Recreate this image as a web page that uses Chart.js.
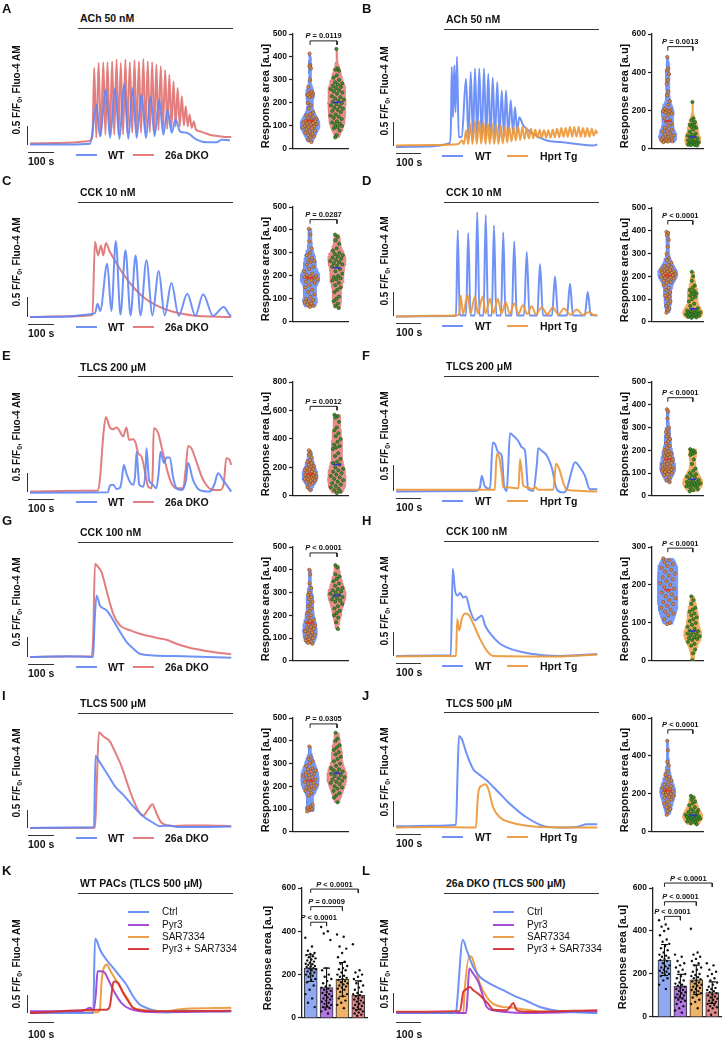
<!DOCTYPE html>
<html lang="en">
<head>
<meta charset="UTF-8">
<title>Ca2+ responses</title>
<script src="https://cdn.jsdelivr.net/npm/chart.js"></script>
<style>
  body { margin: 0; background: #fff; }
  #fig { position: relative; width: 723px; height: 1038px; overflow: hidden;
         font-family: Arial, "Liberation Sans", Helvetica, sans-serif; color: #111; }
  #fig canvas { position: absolute; }
  .t { position: absolute; white-space: nowrap; font-weight: bold; line-height: 1; }
  .letter { font-size: 13px; }
  .ttl { font-size: 10.5px; transform: translateY(-50%); }
  .lg { font-size: 10.5px; transform: translateY(-50%); }
  .lg2 { font-size: 10px; font-weight: normal; transform: translateY(-50%); }
  .sb { font-size: 10.5px; }
  .rot { font-size: 10px; transform: translate(-50%, -50%) rotate(-90deg); }
  .rot2 { font-size: 11px; transform: translate(-50%, -50%) rotate(-90deg); }
  .pv { font-size: 7.5px; transform: translate(-50%, -100%); }
  .ln { position: absolute; background: #333; }
  sub { font-size: 7px; vertical-align: -2px; }
</style>
</head>
<body>
<div id="fig"></div>
<script>
// ---------- calcium traces: [time (s), F/F0 above baseline] ----------
const traceA_wt = [[0,0],[150,0],[231,0.02],[256,1.05],[269,0.22],[292,1.45],[308,0.18],[327,1.49],[344,0.15],[362,1.6],[378,0.15],[395,1.49],[410,0.18],[429,1.32],[446,0.18],[464,1.27],[479,0.22],[497,1.18],[513,0.26],[529,0.92],[545,0.31],[560,0.66],[577,0.35],[603,0.31],[641,0.13],[679,0.06],[718,0.06],[737,0.13],[769,0.11]];
const traceA_dko = [[0,0.03],[150,0.05],[224,0.09],[240,0.2],[247,2.02],[255,0.18],[264,2.15],[272,0.22],[282,2.17],[290,0.26],[298,2.17],[307,0.26],[316,2.19],[324,0.26],[333,2.24],[341,0.26],[349,2.15],[358,0.26],[367,2.24],[375,0.31],[384,2.17],[393,0.31],[402,2.22],[410,0.31],[419,2.18],[427,0.31],[436,2.25],[444,0.32],[453,2.19],[461,0.32],[470,2.17],[478,0.35],[486,2.11],[494,0.38],[503,2.06],[511,0.39],[520,1.96],[528,0.41],[536,1.84],[544,0.44],[552,1.67],[560,0.48],[568,1.49],[576,0.48],[584,1.27],[592,0.5],[599,1.01],[607,0.48],[614,0.79],[622,0.44],[630,0.61],[638,0.4],[653,0.35],[691,0.26],[730,0.22],[760,0.2],[774,0.2]];
const traceB_wt = [[0,-0.01],[120,0],[215,0.07],[220,0.5],[223,1.63],[228,0.6],[233,1.66],[238,0.7],[244,1.84],[251,0.19],[263,0.2],[280,1.39],[290,0.15],[299,1.53],[308,0.15],[316,1.6],[325,0.15],[333,1.6],[343,0.15],[352,1.6],[361,0.15],[369,1.49],[378,0.15],[387,1.41],[396,0.15],[405,1.32],[414,0.18],[423,1.15],[432,0.2],[440,1.15],[449,0.22],[459,0.95],[468,0.26],[476,0.81],[485,0.3],[493,0.6],[509,0.43],[549,0.26],[603,0.12],[656,0.09],[723,0.05],[789,0.02],[805,0.04]];
const traceB_tg = [[0,0.02],[150,0.03],[250,0.05],[263,0.12],[272,0.05],[280,0.33],[289,0.05],[297,0.47],[306,0.05],[315,0.52],[323,0.05],[332,0.52],[341,0.05],[349,0.5],[358,0.05],[367,0.48],[375,0.05],[384,0.47],[393,0.05],[401,0.45],[410,0.05],[419,0.43],[427,0.06],[436,0.41],[445,0.08],[453,0.4],[462,0.1],[471,0.4],[479,0.12],[488,0.41],[497,0.13],[505,0.4],[514,0.15],[523,0.38],[531,0.16],[540,0.36],[549,0.17],[557,0.34],[566,0.18],[575,0.34],[583,0.18],[592,0.33],[601,0.18],[609,0.33],[618,0.18],[627,0.34],[635,0.19],[644,0.36],[653,0.19],[661,0.38],[670,0.2],[679,0.38],[687,0.2],[696,0.4],[705,0.2],[713,0.4],[722,0.2],[731,0.4],[739,0.2],[748,0.38],[757,0.2],[765,0.38],[774,0.2],[783,0.36],[791,0.22],[800,0.33],[805,0.26]];
const traceC_wt = [[0,0],[150,0.01],[230,0.07],[250,0.1],[260,0.33],[270,0.15],[297,1.33],[313,0.15],[330,1.9],[348,0.06],[367,1.67],[387,0.04],[406,1.54],[425,0.04],[448,1.42],[471,0.04],[495,1.15],[518,0.04],[544,0.85],[572,0.03],[605,0.58],[636,0.03],[666,0.57],[704,0.03],[745,0.25],[768,0.05],[774,0.03]];
const traceC_dko = [[0,0],[150,0.02],[240,0.05],[250,1.88],[262,1.54],[273,1.79],[282,1.54],[292,1.85],[307,1.63],[326,1.42],[358,1.08],[397,0.75],[435,0.5],[486,0.29],[550,0.13],[627,0.04],[774,0]];
const traceD_wt = [[0,0],[220,0.01],[240,0.02],[247,1.77],[255,0.03],[280,0.02],[289,1.71],[298,0.02],[316,0.02],[325,2.14],[334,0.02],[350,0.02],[359,2.08],[368,0.02],[383,0.02],[392,1.87],[401,0.02],[420,0.02],[429,1.73],[438,0.02],[463,0.02],[473,1.54],[483,0.02],[512,0.02],[523,1.32],[534,0.02],[565,0.02],[576,1.07],[588,0.02],[624,0.02],[636,0.82],[648,0.02],[684,0.02],[696,0.67],[708,0.02],[755,0.02],[767,0.5],[779,0.03],[805,0.02]];
const traceD_tg = [[0,0],[240,0.02],[252,0.05],[259,0.43],[268,0.05],[287,0.45],[298,0.06],[316,0.41],[327,0.06],[347,0.41],[358,0.06],[376,0.36],[390,0.06],[407,0.36],[422,0.06],[439,0.29],[455,0.05],[473,0.27],[490,0.05],[507,0.23],[525,0.05],[543,0.21],[560,0.04],[583,0.19],[605,0.04],[627,0.18],[650,0.04],[672,0.16],[698,0.03],[723,0.14],[748,0.03],[773,0.09],[790,0.03],[805,0.03]];
const traceE_wt = [[0,-0.03],[300,-0.02],[307,0.16],[320,0.18],[333,0.07],[346,0.1],[352,0.26],[361,0.7],[371,0.48],[384,0.26],[397,0.18],[404,0.4],[410,1.05],[416,0.5],[420,0.18],[435,0.13],[444,0.5],[448,1.14],[458,0.3],[467,0.22],[486,0.09],[495,0.5],[502,1.05],[515,0.75],[525,0.9],[538,0.9],[550,0.39],[563,0.09],[582,0.04],[600,0.3],[608,0.76],[627,0.31],[653,0.04],[691,0],[710,0.2],[723,0.48],[742,0.31],[774,0]];
const traceE_dko = [[0,0],[200,0.02],[262,0.03],[270,0.4],[282,1.49],[292,1.96],[307,1.69],[320,1.64],[333,1.69],[346,1.58],[358,1.45],[371,1.69],[381,1.36],[397,1.38],[407,1.27],[416,1.01],[429,0.92],[448,0.31],[454,0.13],[467,0.09],[472,0.5],[476,1.67],[493,1.54],[506,1.18],[518,0.83],[531,0.48],[544,0.22],[563,0.09],[589,0.09],[599,0.6],[608,1.2],[621,1.14],[640,0.79],[666,0.31],[704,0.04],[730,0.04],[745,0.2],[755,0.88],[768,0.83],[774,0.7]];
const traceF_wt = [[0,0],[320,0.01],[336,0.08],[343,0.3],[355,0.1],[376,0.05],[387,0.94],[396,0.91],[409,0.75],[423,0.69],[432,0.11],[443,0.01],[449,0.5],[456,1.12],[469,1.07],[489,0.97],[503,0.85],[516,0.78],[529,0.04],[549,0.01],[563,0.5],[569,0.83],[583,0.78],[603,0.69],[623,0.46],[643,0.04],[669,-0.02],[683,0.04],[703,0.4],[716,0.56],[736,0.46],[756,0.3],[776,0.04],[805,0.04]];
const traceF_tg = [[0,0.03],[395,0.03],[403,0.72],[413,0.65],[423,0.33],[429,0.08],[443,0.08],[490,0.06],[496,0.62],[503,0.37],[509,0.11],[523,0.08],[549,0.04],[556,0.09],[569,0.03],[629,0.03],[640,0.53],[653,0.43],[669,0.17],[683,0.03],[805,0]];
const traceG_wt = [[0,0],[150,0.02],[243,0],[248,0.8],[256,1.54],[269,1.29],[294,1.17],[320,0.92],[346,0.63],[371,0.38],[397,0.21],[422,0.08],[474,0.04],[589,0.02],[774,-0.02]];
const traceG_dko = [[0,0],[150,0.01],[237,0.02],[243,0.5],[250,2.33],[262,2.25],[275,2.13],[294,1.67],[320,1.08],[346,0.79],[384,0.67],[422,0.58],[461,0.52],[499,0.46],[525,0.43],[563,0.33],[614,0.23],[678,0.15],[730,0.1],[774,0.07]];
const traceH_wt = [[0,0.01],[150,0.02],[219,0.02],[227,1.8],[236,1.36],[245,1.25],[256,1.3],[269,1.21],[280,1.23],[296,0.95],[316,0.74],[329,0.79],[343,0.84],[356,0.64],[383,0.43],[416,0.26],[456,0.16],[523,0.07],[603,0.02],[656,0.01],[805,0.05]];
const traceH_tg = [[0,0],[150,0.01],[240,0.01],[245,0.77],[253,0.53],[263,0.77],[276,0.88],[289,0.86],[309,0.67],[336,0.36],[363,0.12],[389,0.01],[656,0],[805,0.04]];
const traceI_wt = [[0,0],[150,0.01],[246,0.01],[252,1.97],[262,1.86],[282,1.64],[307,1.36],[326,1.14],[358,0.91],[397,0.59],[435,0.32],[474,0.14],[499,0.05],[538,0.07],[563,0.03],[653,0.03],[774,0.04]];
const traceI_dko = [[0,0],[150,0],[250,0.01],[256,1.0],[265,2.61],[282,2.5],[307,2.36],[326,2.09],[352,1.68],[378,1.14],[397,0.77],[422,0.41],[435,0.34],[454,0.5],[471,0.65],[486,0.41],[506,0.14],[550,0.05],[602,0.07],[678,0.07],[774,0.05]];
const traceJ_wt = [[0,0.02],[150,0.03],[240,0.05],[246,1.0],[252,1.76],[263,1.7],[283,1.41],[309,1.12],[329,1.03],[363,0.9],[403,0.71],[456,0.45],[523,0.19],[589,0.03],[656,0],[723,0.01],[763,0.06],[805,0.06]];
const traceJ_tg = [[0,0],[150,0.01],[320,0],[326,0.5],[332,0.74],[343,0.8],[356,0.83],[369,0.74],[389,0.38],[416,0.19],[456,0.1],[523,0.03],[656,0],[805,0]];
const traceK_ctrl = [[0,0],[150,0],[243,0],[250,2.02],[256,1.98],[269,1.73],[294,1.45],[320,1.23],[346,1.0],[371,0.77],[397,0.45],[422,0.23],[448,0.14],[486,0.05],[525,0.02],[563,0.05],[602,0.06],[653,0.05],[774,0.05]];
const traceK_pyr3 = [[0,0.05],[200,0.05],[230,0.14],[245,0.08],[253,0.5],[260,1.14],[275,1.14],[288,1.09],[301,0.91],[326,0.55],[352,0.27],[384,0.11],[422,0.05],[525,0.02],[774,0.05]];
const traceK_sar = [[0,0.02],[260,0.02],[269,0.1],[275,0.82],[284,1.23],[297,1.32],[307,1.18],[326,0.95],[352,0.64],[378,0.36],[397,0.14],[461,0.07],[525,0.05],[589,0.11],[774,0.14]];
const traceK_combo = [[0,0],[269,0.09],[294,0.09],[307,0.18],[320,0.82],[326,0.86],[339,0.82],[358,0.55],[378,0.32],[397,0.14],[461,0.05],[525,0.05],[774,0.06]];
const traceL_ctrl = [[0,0],[240,0],[245,0.3],[267,1.83],[283,1.57],[309,1.15],[336,0.9],[363,0.78],[389,0.69],[429,0.57],[469,0.44],[523,0.3],[576,0.15],[629,0.07],[683,0.03],[805,0]];
const traceL_pyr3 = [[0,0],[280,0],[285,0.3],[293,1.11],[309,0.98],[329,0.78],[349,0.4],[363,0.15],[389,0.07],[429,0.03],[523,0],[805,0.04]];
const traceL_sar = [[0,0],[269,0],[275,0.6],[293,1.42],[303,1.4],[316,1.15],[336,0.73],[363,0.4],[389,0.23],[429,0.15],[469,0.13],[523,0.08],[589,0.03],[805,0.03]];
const traceL_combo = [[0,0.03],[256,0.05],[269,0.53],[276,0.57],[296,0.65],[309,0.57],[329,0.48],[349,0.36],[369,0.23],[389,0.08],[443,0.07],[456,0.15],[469,0.25],[483,0.07],[523,0.03],[805,0.07]];

// ---------- response areas [a.u], one value per cell ----------
const areaA_wt = [415,365,360,350,300,270,250,245,240,238,235,230,225,200,190,175,160,150,145,140,135,130,125,122,120,118,115,112,110,108,105,100,98,95,92,90,85,80,75,70,65,60,55,50,40,30];
const areaA_dko = [435,350,345,340,320,310,300,290,285,280,275,270,265,260,255,250,245,240,230,225,220,215,210,205,200,195,190,185,180,175,170,165,160,150,145,140,135,130,120,115,110,105,100,95,90,80,60,50];
const areaB_wt = [480,420,410,390,360,340,300,280,250,230,210,205,200,198,195,190,185,175,160,150,140,130,120,110,100,95,90,80,75,70,65,60,55,50,48,45,42,40,38,35];
const areaB_tg = [245,160,150,140,130,125,120,115,110,100,90,80,75,70,65,60,55,50,45,40,38,35,32,30,28,25,22,20,20,18];
const areaC_wt = [405,380,350,320,300,290,280,270,265,260,250,240,230,220,210,205,200,198,195,192,190,185,180,175,170,160,150,140,130,120,110,100,95,90,85,80,75,70,65];
const areaC_dko = [380,370,355,340,320,310,300,295,290,285,280,275,270,265,260,255,250,245,240,230,220,210,200,195,190,185,180,170,160,150,140,130,110,100,90,80,70,60];
const areaD_wt = [395,390,380,360,330,300,280,270,260,250,245,240,235,230,228,225,222,220,218,215,212,210,208,205,203,200,198,195,192,190,185,180,175,170,160,150,140,130,120,115,110,100,90,80,70,60,50,40];
const areaD_tg = [220,200,180,160,150,140,135,130,125,120,115,110,100,90,80,70,60,55,50,48,45,42,40,38,36,35,33,32,30,28,25,22,20,18];
const areaE_wt = [320,300,290,270,250,240,230,220,210,200,195,190,185,180,170,165,160,155,150,145,140,135,130,128,125,122,120,118,115,110,105,100,90,80,60,40];
const areaE_dko = [570,560,550,520,480,460,440,420,400,380,360,350,340,330,300,280,260,240,230,220,200,190,180,170,160,150,140,130,120,110,100,90,80,70,60,50,40,30,20];
const areaF_wt = [380,370,340,300,290,280,270,260,250,240,230,220,210,200,195,190,185,180,175,170,165,160,155,150,145,140,135,130,125,122,120,118,115,112,110,108,105,100,95,90,80,70,60];
const areaF_tg = [205,200,195,190,185,180,160,140,120,110,100,95,90,85,80,75,70,65,62,60,58,55,52,50,48,45,42,40,35,30,25,20];
const areaG_wt = [400,380,340,320,300,290,280,270,260,250,240,230,220,210,200,190,180,175,170,165,160,155,150,145,140,135,130,125,120,115,110,105,100,95,90,85,80,75];
const areaG_dko = [420,410,380,370,360,350,340,330,320,315,310,305,300,295,290,285,280,275,270,265,260,250,240,230,220,210,200,190,170,140];
const areaH_wt = [270,265,260,255,250,245,240,235,230,225,220,215,210,205,200,195,190,185,180,175,170,165,160,155,150,145,140,135,130,125,120,110,100,97];
const areaH_tg = [170,160,150,140,135,130,125,120,115,110,105,100,95,90,85,80,78,75,72,70,68,65,62,60,58,55,50,45,40,30,20,2];
const areaI_wt = [375,330,320,310,300,290,280,275,270,265,260,255,250,245,240,235,230,225,220,215,210,205,200,195,190,185,180,170,160,120,110,105,100,95,90];
const areaI_dko = [435,410,400,380,370,360,350,340,330,320,310,300,290,280,275,270,265,260,255,250,245,240,235,230,225,220,215,210,200,195,190,180,170,160,150,130];
const areaJ_wt = [480,430,370,350,320,300,290,280,270,260,250,240,235,230,225,220,215,210,205,200,195,190,185,180,170,160,150,140,130,120,110,90];
const areaJ_tg = [190,180,170,160,150,140,130,120,115,110,105,100,95,90,88,85,82,80,78,75,72,70,68,65,62,60,55,50,45,40];

// ---------- bar charts K / L ----------
const barGroups = ['Ctrl', 'Pyr3', 'SAR7334', 'Pyr3 + SAR7334'];
const barK_ctrl = [370,330,310,300,295,290,285,280,275,270,265,260,255,250,248,245,240,238,235,230,228,225,220,215,210,205,200,195,190,180,175,165,150,130,110,90,70,50];
const barK_pyr3 = [420,400,390,360,230,220,200,190,180,170,160,150,145,140,135,130,125,120,115,110,105,100,95,90,85,80,75,70,65,60,55,50,45,40,30,20];
const barK_sar = [385,375,330,320,300,280,260,250,240,230,225,220,210,200,195,190,185,180,175,170,165,160,155,150,145,140,135,130,120,110,100,90,80,70,60,45];
const barK_combo = [340,220,210,200,190,180,170,160,150,140,130,120,115,110,105,100,95,90,85,80,75,70,65,60,55,50,45,40,35,30,25,20,15,10];
const meanK = [230, 140, 178, 105];
const sdK = [62, 90, 78, 66];
const barL_ctrl = [450,430,420,410,400,380,360,350,340,330,320,310,300,290,285,280,275,270,265,260,250,240,235,230,225,220,215,210,205,200,195,190,180,170,150,130];
const barL_pyr3 = [290,280,260,250,240,230,220,210,200,190,180,170,160,155,150,145,140,135,130,125,120,115,110,105,100,95,90,85,80,75,70,60,50,40,30,20];
const barL_sar = [410,300,290,280,270,260,250,240,230,220,210,200,195,190,185,180,175,170,165,160,155,150,145,140,135,130,125,120,115,110,100,90,80,70,60,40];
const barL_combo = [250,240,220,210,200,190,180,170,160,150,140,135,130,125,120,115,110,105,100,95,90,85,80,75,70,65,60,55,50,45,40,30,20,10];
const meanL = [265, 143, 173, 113];
const sdL = [72, 55, 68, 50];

// ---------- colours ----------
const BLUE = 'rgba(96,134,246,0.9)';
const RED = 'rgba(224,112,112,0.9)';
const ORANGE = 'rgba(236,152,58,0.92)';
const PURPLE = 'rgba(156,62,214,0.92)';
const DARKRED = 'rgba(214,46,46,0.92)';
const V_BLUE = 'rgba(104,140,244,0.88)';
const V_RED = 'rgba(226,126,126,0.88)';
const V_ORANGE = 'rgba(238,166,82,0.9)';
const BAR_COLORS = ['rgba(138,164,240,0.95)', 'rgba(176,112,228,0.95)', 'rgba(238,176,98,0.95)', 'rgba(228,132,132,0.95)'];

const panels = [
  {id:'A', col:0, letterY:3, stim:'ACh 50 nM', stimY:18, ruleY:28, base:145, ppu:38, traces:[traceA_wt, traceA_dko], colors:[BLUE, RED], names:['WT','26a DKO'], front:0,
   area:[areaA_wt, areaA_dko], fills:[V_BLUE, V_RED], vmax:500, vstep:100, vTop:34, vZero:152, vw:[0.36,0.33], bracket:470, p:'= 0.0119'},
  {id:'B', col:1, letterY:3, stim:'ACh 50 nM', stimY:19, ruleY:29, base:146, ppu:48.7, traces:[traceB_wt, traceB_tg], colors:[BLUE, ORANGE], names:['WT','Hprt Tg'], front:1,
   area:[areaB_wt, areaB_tg], fills:[V_BLUE, V_ORANGE], vmax:600, vstep:200, vTop:34, vZero:152, vw:[0.35,0.31], bracket:534, p:'= 0.0013'},
  {id:'C', col:0, letterY:175, stim:'CCK 10 nM', stimY:192, ruleY:202, base:317, ppu:40, traces:[traceC_wt, traceC_dko], colors:[BLUE, RED], names:['WT','26a DKO'], front:0,
   area:[areaC_wt, areaC_dko], fills:[V_BLUE, V_RED], vmax:500, vstep:100, vTop:207, vZero:325, vw:[0.36,0.33], bracket:445, p:'= 0.0287'},
  {id:'D', col:1, letterY:175, stim:'CCK 10 nM', stimY:192, ruleY:202, base:316, ppu:48.7, traces:[traceD_wt, traceD_tg], colors:[BLUE, ORANGE], names:['WT','Hprt Tg'], front:1,
   area:[areaD_wt, areaD_tg], fills:[V_BLUE, V_ORANGE], vmax:500, vstep:100, vTop:208, vZero:325, vw:[0.39,0.39], bracket:445, p:'< 0.0001'},
  {id:'E', col:0, letterY:350, stim:'TLCS 200 \u03bcM', stimY:367, ruleY:376, base:492, ppu:38, traces:[traceE_wt, traceE_dko], colors:[BLUE, RED], names:['WT','26a DKO'], front:0,
   area:[areaE_wt, areaE_dko], fills:[V_BLUE, V_RED], vmax:800, vstep:200, vTop:382, vZero:499, vw:[0.29,0.33], bracket:629, p:'= 0.0012'},
  {id:'F', col:1, letterY:350, stim:'TLCS 200 \u03bcM', stimY:366, ruleY:376, base:491, ppu:52, traces:[traceF_wt, traceF_tg], colors:[BLUE, ORANGE], names:['WT','Hprt Tg'], front:1,
   area:[areaF_wt, areaF_tg], fills:[V_BLUE, V_ORANGE], vmax:500, vstep:100, vTop:382, vZero:499, vw:[0.31,0.39], bracket:431, p:'< 0.0001'},
  {id:'G', col:0, letterY:515, stim:'CCK 100 nM', stimY:532, ruleY:542, base:657, ppu:40, traces:[traceG_wt, traceG_dko], colors:[BLUE, RED], names:['WT','26a DKO'], front:0,
   area:[areaG_wt, areaG_dko], fills:[V_BLUE, V_RED], vmax:500, vstep:100, vTop:547, vZero:664, vw:[0.26,0.33], bracket:474, p:'< 0.0001'},
  {id:'H', col:1, letterY:515, stim:'CCK 100 nM', stimY:531, ruleY:541, base:656, ppu:48.7, traces:[traceH_wt, traceH_tg], colors:[BLUE, ORANGE], names:['WT','Hprt Tg'], front:1,
   area:[areaH_wt, areaH_tg], fills:[V_BLUE, V_ORANGE], vmax:300, vstep:100, vTop:547, vZero:664, vw:[0.39,0.35], bracket:297, p:'< 0.0001'},
  {id:'I', col:0, letterY:690, stim:'TLCS 500 \u03bcM', stimY:703, ruleY:713, base:828, ppu:36.7, traces:[traceI_wt, traceI_dko], colors:[BLUE, RED], names:['WT','26a DKO'], front:0,
   area:[areaI_wt, areaI_dko], fills:[V_BLUE, V_RED], vmax:500, vstep:100, vTop:718, vZero:835, vw:[0.33,0.36], bracket:474, p:'= 0.0305'},
  {id:'J', col:1, letterY:690, stim:'TLCS 500 \u03bcM', stimY:703, ruleY:712, base:827, ppu:52, traces:[traceJ_wt, traceJ_tg], colors:[BLUE, ORANGE], names:['WT','Hprt Tg'], front:1,
   area:[areaJ_wt, areaJ_tg], fills:[V_BLUE, V_ORANGE], vmax:600, vstep:200, vTop:718, vZero:835, vw:[0.31,0.39], bracket:538, p:'< 0.0001'},
  {id:'K', col:0, letterY:865, stim:'WT PACs (TLCS 500 \u03bcM)', stimY:883, ruleY:893, base:1013, ppu:36.7,
   traces:[traceK_ctrl, traceK_pyr3, traceK_sar, traceK_combo], colors:[BLUE, PURPLE, ORANGE, DARKRED], names:barGroups, front:3,
   bars:[barK_ctrl, barK_pyr3, barK_sar, barK_combo], mean:meanK, sd:sdK, vmax:600, vstep:200, vTop:888, vZero:1021,
   brackets:[[2,442],[3,514],[4,595]], ps:['< 0.0001','= 0.0009','< 0.0001']},
  {id:'L', col:1, letterY:865, stim:'26a DKO (TLCS 500 \u03bcM)', stimY:883, ruleY:893, base:1013, ppu:40,
   traces:[traceL_ctrl, traceL_pyr3, traceL_sar, traceL_combo], colors:[BLUE, PURPLE, ORANGE, DARKRED], names:barGroups, front:3,
   bars:[barL_ctrl, barL_pyr3, barL_sar, barL_combo], mean:meanL, sd:sdL, vmax:600, vstep:200, vTop:888, vZero:1020,
   brackets:[[2,468],[3,536],[4,623]], ps:['< 0.0001','< 0.0001','< 0.0001']}
];

// ---------- helpers ----------
const fig = document.getElementById('fig');

function el(cls, html, css) {
  const e = document.createElement('div');
  e.className = cls;
  if (html != null) e.innerHTML = html;
  Object.assign(e.style, css || {});
  fig.appendChild(e);
  return e;
}
function px(v) { return v + 'px'; }
function line(x, y, w, h, color) {
  return el('ln', null, {left: px(x), top: px(y), width: px(w), height: px(h), background: color || '#333'});
}
function makeCanvas(x, y, w, h) {
  const c = document.createElement('canvas');
  c.width = w; c.height = h;
  c.style.left = px(x); c.style.top = px(y);
  c.style.width = px(w); c.style.height = px(h);
  fig.appendChild(c);
  return c;
}
// deterministic horizontal spread for dots
function spread(i) { return ((i * 0.6180339) % 1) * 2 - 1; }
function median(vals) {
  const s = vals.slice().sort((a, b) => a - b);
  const m = Math.floor(s.length / 2);
  return s.length % 2 ? s[m] : (s[m - 1] + s[m]) / 2;
}
function violinProfile(vals, halfMax, bw) {
  const lo = Math.min(...vals), hi = Math.max(...vals);
  const n = 40, prof = [];
  for (let k = 0; k <= n; k++) {
    const y = lo + (hi - lo) * k / n;
    let d = 0;
    for (const v of vals) d += Math.exp(-0.5 * ((y - v) / bw) ** 2);
    prof.push([y, d]);
  }
  const m = Math.max(...prof.map(p => p[1]));
  return prof.map(([y, d]) => [y, d / m * halfMax]);
}
function widthAt(prof, y) {
  for (let k = 1; k < prof.length; k++) {
    if (y <= prof[k][0]) {
      const [y0, w0] = prof[k - 1], [y1, w1] = prof[k];
      return y1 === y0 ? w1 : w0 + (w1 - w0) * (y - y0) / (y1 - y0);
    }
  }
  return prof[prof.length - 1][1];
}

const baseOptions = () => ({
  responsive: false, animation: false, devicePixelRatio: 1, events: [],
  plugins: {legend: {display: false}, tooltip: {enabled: false}}
});

function valueAxes(p, afterWidth) {
  return {
    type: 'linear', min: 0, max: p.vmax,
    afterFit: s => { s.width = afterWidth; },
    ticks: {stepSize: p.vstep, color: '#111', padding: 2, font: {family: 'Arial, "Liberation Sans", sans-serif', size: 8.5, weight: 'bold'}},
    grid: {display: true, drawOnChartArea: false, drawTicks: true, tickLength: 4, tickColor: '#222', tickWidth: 1.2},
    border: {display: true, color: '#222', width: 1.3}
  };
}

// ---------- trace panels ----------
function drawTraces(p) {
  const right = p.col === 1;
  const x0 = right ? 396 : 30, w = 202;
  const xmax = right ? 808 : 777;
  const top = p.ruleY + 6;
  const bottom = Math.round(p.base + 0.3 * p.ppu);
  const h = bottom - top;
  const ymax = h / p.ppu - 0.3;
  const c = makeCanvas(x0, top, w, h);
  const opts = baseOptions();
  opts.layout = {padding: 0};
  opts.scales = {
    x: {type: 'linear', display: false, min: 0, max: xmax},
    y: {type: 'linear', display: false, min: -0.3, max: ymax}
  };
  new Chart(c, {
    type: 'scatter',
    data: {datasets: p.traces.map((t, i) => ({
      data: t.map(d => ({x: d[0], y: d[1]})),
      showLine: true, pointRadius: 0, borderColor: p.colors[i], borderWidth: 2,
      cubicInterpolationMode: 'monotone', clip: false,
      order: i === p.front ? 0 : i + 1
    }))},
    options: opts
  });

  // scale bars
  const sbx = right ? 393 : 27;
  line(sbx, p.base - 0.5 * p.ppu, 1.3, 0.5 * p.ppu);
  const last = p.id === 'K' || p.id === 'L';
  const hx = right ? 396 : 28;
  line(hx, p.base + (last ? 9 : 7), 100 * w / xmax, 1.3);
  el('t sb', '100 s', {left: px(hx), top: px(p.base + (last ? 16 : 11))});

  // y label
  el('t rot', '0.5 F/F<sub>0</sub>, Fluo-4 AM', {left: px(right ? 385 : 17), top: px(p.base - (last ? 49 : 55))});

  // stimulus
  const ox = right ? 360 : 0;
  el('t letter', p.id, {left: px(ox + 2), top: px(p.letterY - 1)});
  el('t ttl', p.stim, {left: px(right ? 446 : 80), top: px(p.stimY)});
  line(right ? 444 : 78, p.ruleY, 155, 1.2);

  // legend
  if (last) {
    const lx = right ? 493 : 128, tx = right ? 527 : 162;
    [912, 925, 937, 949].forEach((y, i) => {
      line(lx, y - 1, 21, 2.2, p.colors[i]);
      el('t lg2', p.names[i], {left: px(tx), top: px(y)});
    });
  } else {
    const ly = p.base + 10;
    const L = right ? [442, 475, 507, 540] : [76, 108, 133, 165];
    line(L[0], ly - 1, 21, 2.2, p.colors[0]);
    el('t lg', p.names[0], {left: px(L[1]), top: px(ly)});
    line(L[2], ly - 1, 21, 2.2, p.colors[1]);
    el('t lg', p.names[1], {left: px(L[3]), top: px(ly)});
  }
}

// ---------- violin panels ----------
function drawViolin(p) {
  const right = p.col === 1;
  const axisX = right ? 652 : 293;
  const axisLen = right ? 51 : 55;
  const cx = [0.62, 1.6];
  const cLeft = axisX - 40, cTop = p.vTop - 8;
  const c = makeCanvas(cLeft, cTop, 40 + axisLen + 6, p.vZero - p.vTop + 12);
  const ds = [];
  const dotFill = ['#d88d4e', '#3f8e2f'], dotLine = ['#8a4a1c', '#1f5516'];
  const medColor = ['#e3302a', '#2b34d6'];
  p.area.forEach((vals, g) => {
    const prof = violinProfile(vals, p.vw[g], 0.05 * p.vmax);
    const poly = prof.map(([y, w]) => ({x: cx[g] + w, y}))
      .concat(prof.slice().reverse().map(([y, w]) => ({x: cx[g] - w, y})));
    poly.push(poly[0]);
    ds.push({data: poly, showLine: true, fill: 'shape', backgroundColor: p.fills[g], borderColor: p.fills[g],
             borderWidth: 0.8, pointRadius: 0, tension: 0, order: 4});
    ds.push({data: vals.map((v, i) => ({x: cx[g] + spread(i) * widthAt(prof, v) * 0.8, y: v})),
             pointRadius: 1.6, backgroundColor: dotFill[g], borderColor: dotLine[g], borderWidth: 0.7, order: 2});
    const m = median(vals);
    ds.push({data: [{x: cx[g] - 0.14, y: m}, {x: cx[g] + 0.14, y: m}], showLine: true, borderColor: medColor[g],
             borderWidth: 1.6, pointRadius: 0, order: 1});
  });
  const d = 0.035 * p.vmax;
  ds.push({data: [{x: cx[0], y: p.bracket - d}, {x: cx[0], y: p.bracket}, {x: cx[1], y: p.bracket}, {x: cx[1], y: p.bracket - d}],
           showLine: true, borderColor: '#222', borderWidth: 1, pointRadius: 0, clip: false, order: 0});

  const opts = baseOptions();
  opts.layout = {padding: {top: 8, bottom: 4, left: 0, right: 6}};
  opts.scales = {
    x: {type: 'linear', min: 0, max: 2, afterFit: s => { s.height = 0; },
        ticks: {display: false}, grid: {display: false}, border: {display: true, color: '#222', width: 1.3}},
    y: valueAxes(p, 40)
  };
  const chart = new Chart(c, {type: 'scatter', data: {datasets: ds}, options: opts});
  const xs = chart.scales.x, ys = chart.scales.y;
  el('t pv', '<i>P</i> ' + p.p, {left: px(cLeft + xs.getPixelForValue((cx[0] + cx[1]) / 2)), top: px(cTop + ys.getPixelForValue(p.bracket) - 1.5)});
  el('t rot2', 'Response area [a.u]', {left: px(axisX - 28), top: px((p.vTop + p.vZero) / 2 + 3)});
}

// ---------- bar panels ----------
function drawBars(p) {
  const right = p.col === 1;
  const axisX = right ? 653 : 302;
  const xmin = right ? 0.28 : 0.45, xmax = 4.55, unit = 16.3;
  const axisLen = (xmax - xmin) * unit;
  const cLeft = axisX - 40, cTop = p.vTop - 8;
  const c = makeCanvas(cLeft, cTop, Math.round(40 + axisLen + 2), p.vZero - p.vTop + 12);
  const ds = [];
  ds.push({type: 'bar', data: p.mean.map((m, i) => ({x: i + 1, y: m})), backgroundColor: BAR_COLORS,
           borderColor: '#333', borderWidth: 1, barThickness: 13, order: 4});
  const err = [];
  p.mean.forEach((m, i) => {
    const x = i + 1, lo = m - p.sd[i], hi = m + p.sd[i];
    err.push({x, y: lo}, {x, y: hi}, {x, y: null},
             {x: x - 0.22, y: hi}, {x: x + 0.22, y: hi}, {x, y: null},
             {x: x - 0.22, y: lo}, {x: x + 0.22, y: lo}, {x, y: null});
  });
  ds.push({type: 'scatter', data: err, showLine: true, spanGaps: false, borderColor: '#111', borderWidth: 1.1, pointRadius: 0, order: 2});
  p.bars.forEach((vals, g) => {
    ds.push({type: 'scatter', data: vals.map((v, i) => ({x: g + 1 + spread(i) * 0.34, y: v})),
             pointRadius: 1.2, backgroundColor: '#111', borderWidth: 0, order: 1});
  });
  p.brackets.forEach(([g, y]) => {
    ds.push({type: 'scatter', data: [{x: 1, y: y - 18}, {x: 1, y}, {x: g, y}, {x: g, y: y - 18}],
             showLine: true, borderColor: '#222', borderWidth: 1, pointRadius: 0, clip: false, order: 0});
  });
  const opts = baseOptions();
  opts.layout = {padding: {top: 8, bottom: 4, left: 0, right: 2}};
  opts.scales = {
    x: {type: 'linear', min: xmin, max: xmax, offset: false, afterFit: s => { s.height = 0; },
        ticks: {display: false}, grid: {display: false, offset: false}, border: {display: true, color: '#222', width: 1.3}},
    y: valueAxes(p, 40)
  };
  const chart = new Chart(c, {type: 'bar', data: {datasets: ds}, options: opts});
  const xs = chart.scales.x, ys = chart.scales.y;
  p.brackets.forEach(([g, y], k) => {
    el('t pv', '<i>P</i> ' + p.ps[k], {left: px(cLeft + xs.getPixelForValue((1 + g) / 2)), top: px(cTop + ys.getPixelForValue(y) - 1.5)});
  });
  el('t rot2', 'Response area [a.u]', {left: px(right ? 622 : 267), top: px((p.vTop + p.vZero) / 2 + 3)});
}

panels.forEach(p => {
  drawTraces(p);
  if (p.bars) drawBars(p); else drawViolin(p);
});
</script>
</body>
</html>
